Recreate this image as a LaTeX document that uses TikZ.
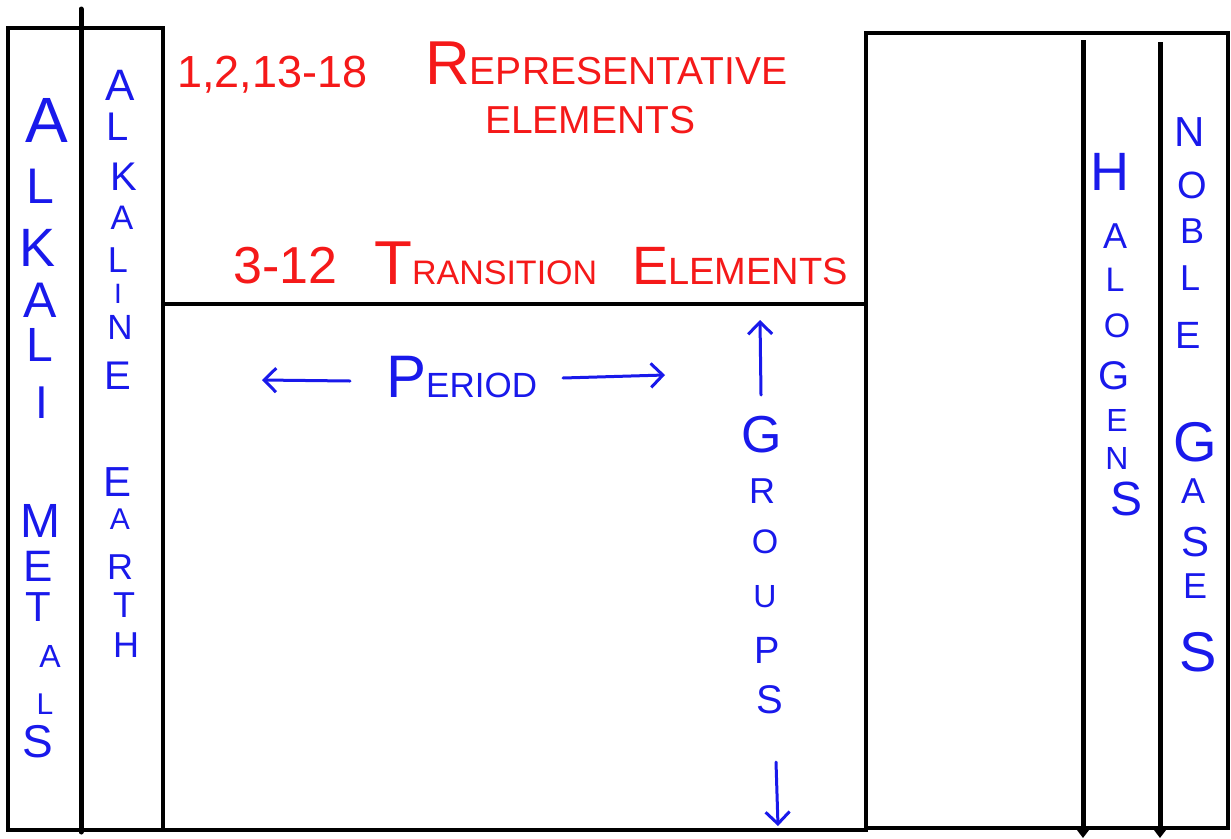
\documentclass[tikz,border=0pt]{standalone}
\usepackage{fontspec}
\setmainfont{Liberation Sans}
\usetikzlibrary{arrows.meta}
\definecolor{pen}{RGB}{25,25,235}
\definecolor{ink}{RGB}{245,25,25}
\newcommand{\fs}[1]{\fontsize{#1}{#1}\selectfont}
\begin{document}
\begin{tikzpicture}[x=1pt,y=-1pt,
  box/.style={draw=black,line width=3.6pt},
  bar/.style={draw=black,line width=5pt,line cap=round},
  blet/.style={text=pen,inner sep=0pt,anchor=center},
  rtxt/.style={text=ink,inner sep=0pt,anchor=base west},
  btxt/.style={text=pen,inner sep=0pt,anchor=base west},
  parrow/.style={draw=pen,line width=3pt,line cap=round,-{Straight Barb[length=12pt,width=24pt,line width=3pt]}},
  darrow/.style={draw=black,line width=5pt,-{Triangle[length=11pt,width=16pt]}}]
\useasboundingbox (0,0) rectangle (1231,838);
\fill[white] (0,0) rectangle (1231,838);
% boxes
\draw[box] (8,28) rectangle (163,830);
\draw[box] (163,304) rectangle (866,830);
\draw[box] (866,33) rectangle (1228,828);
\coordinate (bt) at (81,9);
\coordinate (bb) at (81,832);
\draw[bar] (bt) -- (bb);
% right arrows
\coordinate (h1) at (1083,40);
\coordinate (h2) at (1083,838);
\coordinate (n1) at (1160,42);
\coordinate (n2) at (1160,838);
\draw[darrow] (h1) -- (h2);
\draw[darrow] (n1) -- (n2);
% Alkali metals column
\foreach \x/\y/\l/\s [count=\i] in {47/120/A/64,40/186/L/50,38/248/K/54,40/300/A/50,40/345/L/48,42/403/I/46,
  40/521/M/48,38/566/E/44,38/607/T/42,50/656/A/32,45/704/L/30,38/742/S/46}
  \node[blet,font=\fs{\s}] (am\i) at (\x,\y) {\l};
% Alkaline earth column
\foreach \x/\y/\l/\s [count=\i] in {120/85/A/44,118/127/L/40,124/177/K/40,122/218/A/34,118/260/L/36,118/294/I/28,
  120/327/N/35,118/376/E/40,118/482/E/42,120/519/A/30,120/567/R/36,124/605/T/36,126/645/H/36}
  \node[blet,font=\fs{\s}] (ae\i) at (\x,\y) {\l};
% Halogens
\foreach \x/\y/\l/\s [count=\i] in {1110/172/H/54,1115/236/A/36,1115/280/L/34,1117/326/O/34,1114/376/G/40,
  1117/420/E/32,1117/458/N/32,1126/499/S/48}
  \node[blet,font=\fs{\s}] (ha\i) at (\x,\y) {\l};
% Noble gases
\foreach \x/\y/\l/\s [count=\i] in {1190/132/N/42,1192/185/O/38,1192/231/B/36,1190/278/L/36,1188/335/E/38,
  1195/442/G/56,1193/491/A/36,1195/542/S/42,1195/586/E/36,1198/652/S/56}
  \node[blet,font=\fs{\s}] (ng\i) at (\x,\y) {\l};
% Groups
\foreach \x/\y/\l/\s [count=\i] in {762/435/G/52,762/491/R/36,765/542/O/34,765/597/U/32,767/650/P/38,770/700/S/40}
  \node[blet,font=\fs{\s}] (gr\i) at (\x,\y) {\l};
\coordinate (gu1) at (761,395);
\coordinate (gu2) at (760,320);
\coordinate (gd1) at (776,762);
\coordinate (gd2) at (778,826);
\draw[parrow] (gu1) -- (gu2);
\draw[parrow] (gd1) -- (gd2);
% Period
\node[btxt] (period) at (386,397) {{\fs{60}P}{\fs{35}ERIOD}};
\coordinate (pl1) at (350,381);
\coordinate (pl2) at (262,380);
\coordinate (pr1) at (563,378);
\coordinate (pr2) at (665,375);
\draw[parrow] (pl1) -- (pl2);
\draw[parrow] (pr1) -- (pr2);
% Red texts
\node[rtxt,font=\fs{45}] (nums) at (177,87) {1,2,13-18};
\node[rtxt] (rep) at (425,84) {{\fs{62}R}{\fs{39}EPRESENTATIVE}};
\node[rtxt,font=\fs{39}] (elem1) at (485,133) {ELEMENTS};
\node[rtxt,font=\fs{52}] (tr1) at (233,283) {3-12};
\node[rtxt] (trans) at (374,284) {{\fs{62}T}{\fs{34}RANSITION}};
\node[rtxt] (elem2) at (632,284) {{\fs{54}E}{\fs{38}LEMENTS}};
\end{tikzpicture}
\end{document}
